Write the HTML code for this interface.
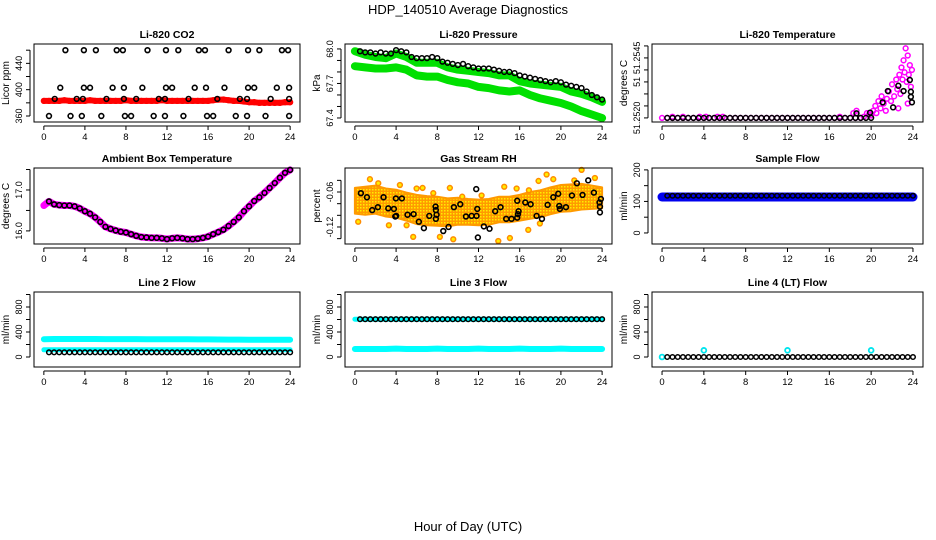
<!DOCTYPE html>
<html><head><meta charset="utf-8">
<style>
html,body{margin:0;padding:0;background:#fff;}
svg{display:block;font-family:"Liberation Sans",Arial,sans-serif;}
</style></head>
<body>
<svg id="chart" width="936" height="540" viewBox="0 0 936 540" xmlns="http://www.w3.org/2000/svg">
<defs>
<pattern id="rhpat" width="3" height="3" patternUnits="userSpaceOnUse">
<rect width="3" height="3" fill="#ff9a00"/><rect x="0" y="0" width="1.5" height="1.5" fill="#ffee00"/>
</pattern>
</defs>
<text x="468" y="14" text-anchor="middle" font-size="13">HDP_140510  Average Diagnostics</text>
<text x="468" y="531" text-anchor="middle" font-size="13">Hour of Day (UTC)</text>
</svg>
<script>
// ---------- data ----------
const xTicks = [0,4,8,12,16,20,24];
// CO2
const co2Red = [383,383,383,383,384,383,383,383,383,384,383,383,383,383,383,383,384,383,383,383,383,383,383,384,383,383,383,383,383,383,383,383,383,384,385,385,384,383,383,382,381,381,380,380,380,380,380,381,381];
const co2BlackHours = [2.1,3.9,5.07,7.1,7.7,10.1,11.9,13.1,15.1,15.7,18.0,19.9,21.0,23.2,23.8, 1.6,3.9,4.5,6.7,7.8,9.6,11.9,12.5,14.7,15.8,17.6,19.9,20.5,22.7,23.9, 1.06,3.2,3.8,6.1,7.8,9.0,11.2,11.8,14.1,16.9,19.1,19.8,22.1,23.9, 0.5,2.6,3.7,5.6,7.9,8.5,10.7,11.8,13.6,15.9,16.5,18.7,19.8,21.6,23.9];
const co2BlackVals = [460,460,460,460,460,460,460,460,460,460,460,460,460,460,460, 403,403,403,403,403,403,403,403,403,403,403,403,403,403,403, 386,386,386,386,386,386,386,386,386,386,386,386,386,386, 360,360,360,360,360,360,360,360,360,360,360,360,360,360,360];
// Pressure
const presBlack = [67.99,67.98,67.97,67.97,67.96,67.97,67.96,67.96,67.99,67.98,67.97,67.93,67.92,67.92,67.92,67.93,67.92,67.89,67.88,67.87,67.86,67.87,67.85,67.84,67.83,67.83,67.83,67.82,67.81,67.80,67.80,67.79,67.77,67.76,67.75,67.74,67.73,67.72,67.71,67.72,67.71,67.69,67.68,67.67,67.66,67.63,67.60,67.58,67.56];
const presGreenUpper = [67.98,67.95,67.93,67.92,67.96,67.93,67.88,67.88,67.88,67.84,67.82,67.81,67.80,67.79,67.77,67.77,67.72,67.70,67.69,67.68,67.67,67.63,67.61,67.58,67.54];
const presGreenLower = [67.85,67.84,67.83,67.83,67.84,67.82,67.77,67.76,67.76,67.73,67.71,67.70,67.67,67.66,67.64,67.63,67.64,67.60,67.57,67.55,67.53,67.50,67.46,67.43,67.40];
// Li-820 temperature
const tempBase = 51.2520;
const tempMagHours = [19.3,19.6,19.8,20.0,20.2,20.4,20.5,20.7,20.9,21.0,21.2,21.4,21.5,21.7,21.9,22.0,22.2,22.4,22.5,22.7,22.8,22.9,23.0,23.1,23.2,23.3,23.4,23.5,23.6,23.7,23.8,23.9,23.5,22.6,18.3,18.6,17.0,3.6,4.2,1.0,2.0,5.3,5.8];
const tempMagVals = [51.25205,51.2522,51.25215,51.2521,51.2523,51.2525,51.2522,51.2527,51.2524,51.2529,51.2526,51.2523,51.2528,51.2531,51.2527,51.2534,51.2529,51.2536,51.2532,51.2538,51.2530,51.2541,51.2536,51.2544,51.2539,51.2549,51.2535,51.2546,51.2538,51.2542,51.2533,51.2540,51.2526,51.2524,51.2522,51.2523,51.25205,51.25205,51.25205,51.25205,51.25205,51.25205,51.25205];
const tempBlackHours = [18.6,19.9,21.1,21.6,22.1,22.6,23.1,23.7,23.8,23.8,23.9];
const tempBlackVals = [51.25219,51.25222,51.25265,51.25312,51.25244,51.25334,51.25312,51.25358,51.25309,51.25288,51.25265];
// Ambient box temperature (half-hourly)
const ambient = [16.62,16.72,16.65,16.63,16.62,16.62,16.6,16.55,16.48,16.42,16.33,16.22,16.1,16.05,16.01,15.98,15.96,15.92,15.88,15.85,15.84,15.83,15.83,15.82,15.8,15.82,15.83,15.82,15.8,15.8,15.81,15.83,15.86,15.92,15.97,16.03,16.12,16.22,16.33,16.48,16.6,16.73,16.82,16.93,17.05,17.17,17.3,17.42,17.49];
// Gas stream RH
const rhMean = [-0.075,-0.075,-0.073,-0.078,-0.08,-0.085,-0.09,-0.092,-0.093,-0.095,-0.093,-0.094,-0.095,-0.094,-0.09,-0.09,-0.087,-0.083,-0.08,-0.075,-0.071,-0.07,-0.068,-0.069,-0.07];
const rhHalfWidth = [0.022,0.024,0.024,0.024,0.024,0.024,0.025,0.025,0.025,0.024,0.023,0.022,0.022,0.022,0.022,0.022,0.022,0.023,0.023,0.023,0.023,0.023,0.022,0.02,0.018];
const rhOrangeHours = [1.46,2.27,4.37,5.99,6.57,7.61,9.22,10.42,12.30,14.50,15.70,16.89,17.83,18.61,19.26,21.30,22.01,23.30,3.30,5.02,5.66,8.25,9.55,13.92,15.05,16.83,17.96,0.32];
const rhOrangeVals = [-0.038,-0.045,-0.048,-0.054,-0.053,-0.062,-0.053,-0.068,-0.066,-0.051,-0.054,-0.057,-0.041,-0.030,-0.038,-0.040,-0.022,-0.036,-0.117,-0.117,-0.137,-0.137,-0.141,-0.144,-0.139,-0.125,-0.114,-0.111];
const rhBlackHours = [0.58,1.17,1.68,2.23,2.78,3.24,3.79,3.92,4.01,3.98,4.56,5.11,5.70,6.21,6.70,7.22,7.83,7.86,7.86,7.93,8.58,9.09,9.61,10.23,10.78,11.33,11.81,11.88,11.78,11.94,12.52,13.07,13.62,14.14,14.69,15.21,15.76,15.83,15.89,15.76,16.54,17.06,17.64,18.16,18.71,19.26,19.74,19.84,19.90,20.49,21.07,21.55,22.10,22.65,23.20,23.75,23.88,23.79,23.79];
const rhBlackVals = [-0.062,-0.069,-0.091,-0.086,-0.069,-0.088,-0.089,-0.102,-0.101,-0.071,-0.071,-0.099,-0.098,-0.111,-0.122,-0.101,-0.085,-0.091,-0.106,-0.099,-0.127,-0.120,-0.086,-0.081,-0.102,-0.101,-0.101,-0.089,-0.055,-0.138,-0.119,-0.123,-0.093,-0.086,-0.106,-0.106,-0.104,-0.098,-0.093,-0.075,-0.078,-0.081,-0.101,-0.106,-0.082,-0.069,-0.063,-0.084,-0.089,-0.086,-0.066,-0.045,-0.065,-0.040,-0.061,-0.078,-0.072,-0.085,-0.095];
// Flows (hourly)
const sampleBlue = [114,114,114,114,114,114,114,114,114,114,114,114,114,114,114,114,114,114,114,114,114,114,114,114,114];
const sampleBlack = [118,118,118,118,118,118,118,118,118,118,118,118,118,118,118,118,118,118,118,118,118,118,118,118,118];
const line2CyanUpper = [285,288,288,288,288,288,287,287,286,286,285,285,284,284,283,282,281,280,279,278,277,276,275,275,275];
const line2CyanLower = [115,115,115,115,115,115,115,115,115,115,115,115,115,115,115,115,115,115,115,115,115,115,115,115,115];
const line2Black = [75,75,75,75,75,75,75,75,75,75,75,75,75,75,75,75,75,75,75,75,75,75,75,75,75];
const line3Black = [605,605,605,605,605,605,605,605,605,605,605,605,605,605,605,605,605,605,605,605,605,605,605,605,605];
const line3CyanLower = [128,128,128,128,135,128,128,128,135,128,128,128,135,128,128,128,135,128,128,128,135,128,128,128,128];
const line4Black = [0,0,0,0,0,0,0,0,0,0,0,0,0,0,0,0,0,0,0,0,0,0,0,0,0];
const line4CyanHours = [0,4,12,20];
const line4CyanVals = [0,107,107,107];

// ---------- drawing ----------
const NS = "http://www.w3.org/2000/svg";
const svg = document.getElementById('chart');
function mk(tag, attrs, parent){ const e=document.createElementNS(NS,tag); for(const k in attrs) e.setAttribute(k,attrs[k]); (parent||svg).appendChild(e); return e; }

const cols = [[34,300],[345,612],[652,923]];
const rows = [[44,122],[168,244],[292,367]];

function panel(name, col, row, title, ylab, ymin, ymax, yticks, ylabels){
  const [x0,x1]=cols[col], [y0,y1]=rows[row];
  const g = mk('g',{});
  
  
  const sx = h => x0 + (h + 0.96)/25.92*(x1-x0);
  const sy = v => y1 - (v - ymin)/(ymax-ymin)*(y1-y0);
  const plot = mk('g',{},g);
  
  
  const box = mk('rect',{x:x0,y:y0,width:x1-x0,height:y1-y0,fill:'none',stroke:'#000','stroke-width':1},g);
  
  
  const t = mk('text',{x:(x0+x1)/2,y:y0-6,'text-anchor':'middle','font-size':10.5,'font-weight':'bold'},g);
  t.textContent=title;
  
  
  const xa = mk('g',{},g);
  
  
  mk('line',{x1:sx(0),x2:sx(24),y1:y1+4,y2:y1+4,stroke:'#000'},xa);
  xTicks.forEach(v=>{
    mk('line',{x1:sx(v),x2:sx(v),y1:y1+4,y2:y1+8,stroke:'#000'},xa);
    const l=mk('text',{x:sx(v),y:y1+18,'text-anchor':'middle','font-size':9.5},xa);
    l.textContent=v;
    
    
  });
  const ya = mk('g',{},g);
  
  
  mk('line',{x1:x0-4,x2:x0-4,y1:sy(yticks[0]),y2:sy(yticks[yticks.length-1]),stroke:'#000'},ya);
  yticks.forEach(v=>mk('line',{x1:x0-8,x2:x0-4,y1:sy(v),y2:sy(v),stroke:'#000'},ya));
  ylabels.forEach(([v,s])=>{
    const l=mk('text',{x:0,y:0,'text-anchor':'middle','font-size':9,transform:`translate(${x0-12},${sy(v)}) rotate(-90)`},ya);
    l.textContent=s;
    
    
  });
  const yt=mk('text',{x:0,y:0,'text-anchor':'middle','font-size':10,transform:`translate(${x0-25},${(y0+y1)/2}) rotate(-90)`},g);
  yt.textContent=ylab;
  
  
  return {g:plot,sx,sy};
}
function circ(p,h,v,color,r,sw,fill){
  const c=mk('circle',{cx:p.sx(h),cy:p.sy(v),r:r||2.4,fill:fill||'none',stroke:color,'stroke-width':sw||1.5},p.g);
  
  
  return c;
}
function band(p,vals,step,color,w,name){
  const pts=vals.map((v,i)=>p.sx(i*step).toFixed(1)+','+p.sy(v).toFixed(1)).join(' ');
  const l=mk('polyline',{points:pts,fill:'none',stroke:color,'stroke-width':w,'stroke-linejoin':'round','stroke-linecap':'round'},p.g);
  
  
}

// Li-820 CO2
let p = panel('co2',0,0,'Li-820 CO2','Licor ppm',350.9,469.4,[360,380,400,420,440,460],[[360,'360'],[400,'400'],[440,'440']]);
band(p,co2Red,0.5,'#ff0000',6,'co2-red-series');
co2Red.forEach((v,i)=>circ(p,i*0.5,v,'#ff0000',2.4,1.5));
co2BlackHours.forEach((h,i)=>circ(p,h,co2BlackVals[i],'#000',2.4,1.6));

// Pressure
p = panel('pressure',1,0,'Li-820 Pressure','kPa',67.365,68.043,[67.4,67.5,67.6,67.7,67.8,67.9,68.0],[[67.4,'67.4'],[67.7,'67.7'],[68.0,'68.0']]);
band(p,presGreenLower,1,'#00e000',8,'pressure-green-lower');
band(p,presGreenUpper,1,'#00e000',8,'pressure-green-upper');
presBlack.forEach((v,i)=>{ if(i>0) circ(p,i*0.5,v,'#000',2.4,1.5); });

// Li-820 Temperature
p = panel('li820-temp',2,0,'Li-820 Temperature','degrees C',51.25183,51.25508,[51.2520,51.2525,51.2530,51.2535,51.2540,51.2545,51.2550],[[51.2520,'51.2520'],[51.2535,'51'],[51.2545,'51.2545']]);
for(let i=0;i<=38;i++) circ(p,i*0.5,tempBase,'#ff00ff',2.4,1.5);
tempMagHours.forEach((h,i)=>circ(p,h,tempMagVals[i],'#ff00ff',2.4,1.5));
for(let i=1;i<=40;i++) circ(p,i*0.5,tempBase,'#000',2.4,1.5);
tempBlackHours.forEach((h,i)=>circ(p,h,tempBlackVals[i],'#000',2.4,1.6));

// Ambient
p = panel('ambient-temp',0,1,'Ambient Box Temperature','degrees C',15.68,17.537,[16.0,16.5,17.0,17.5],[[16.0,'16.0'],[17.0,'17.0']]);
band(p,ambient,0.5,'#ff00ff',7,'ambient-magenta-series');
ambient.forEach((v,i)=>{ if(i>0) circ(p,i*0.5,v,'#000',2.4,1.6); });

// Gas stream RH
p = panel('rh',1,1,'Gas Stream RH','percent',-0.1492,-0.0188,[-0.14,-0.12,-0.10,-0.08,-0.06,-0.04],[[-0.12,'-0.12'],[-0.06,'-0.06']]);
{
  const up = rhMean.map((m,i)=>p.sx(i).toFixed(1)+','+p.sy(m+rhHalfWidth[i]).toFixed(1));
  const dn = rhMean.map((m,i)=>p.sx(i).toFixed(1)+','+p.sy(m-rhHalfWidth[i]).toFixed(1)).reverse();
  const poly=mk('polygon',{points:up.concat(dn).join(' '),fill:'url(#rhpat)',stroke:'#ff9a00','stroke-width':2,'stroke-linejoin':'round'},p.g);
  
  
}
rhOrangeHours.forEach((h,i)=>circ(p,h,rhOrangeVals[i],'#ff8c00',2.4,1.5,'#ffee00'));
rhBlackHours.forEach((h,i)=>circ(p,h,rhBlackVals[i],'#000',2.4,1.6));

// Sample flow
p = panel('sample-flow',2,1,'Sample Flow','ml/min',-35,206,[0,50,100,150,200],[[0,'0'],[100,'100'],[200,'200']]);
band(p,sampleBlue,1,'#0000ee',9,'sample-blue-series');
sampleBlack.forEach((v,i)=>{ if(i>0){ circ(p,i-0.5,v,'#000',2.3,1.5); circ(p,i,v,'#000',2.3,1.5);} });

// Line 2
const flowTicks=[0,200,400,600,800,1000], flowLabels=[[0,'0'],[400,'400'],[800,'800']];
p = panel('line2-flow',0,2,'Line 2 Flow','ml/min',-160,1040,flowTicks,flowLabels);
band(p,line2CyanUpper,1,'#00ffff',6,'line2-cyan-upper');
band(p,line2CyanLower,1,'#00ffff',5,'line2-cyan-lower');
line2Black.forEach((v,i)=>{ if(i>0){ circ(p,i-0.5,v,'#000',2.3,1.5); circ(p,i,v,'#000',2.3,1.5);} });

// Line 3
p = panel('line3-flow',1,2,'Line 3 Flow','ml/min',-160,1040,flowTicks,flowLabels);
band(p,line3CyanLower,1,'#00ffff',6,'line3-cyan-lower');
band(p,line3Black,1,'#00ffff',5,'line3-cyan-upper');
line3Black.forEach((v,i)=>{ if(i>0){ circ(p,i-0.5,v,'#000',2.3,1.5); circ(p,i,v,'#000',2.3,1.5);} });

// Line 4
p = panel('line4-flow',2,2,'Line 4 (LT) Flow','ml/min',-160,1040,flowTicks,flowLabels);
line4CyanHours.forEach((h,i)=>circ(p,h,line4CyanVals[i],'#00e5ee',2.4,1.8));
line4Black.forEach((v,i)=>{ if(i>0){ circ(p,i-0.5,v,'#000',2.3,1.5); circ(p,i,v,'#000',2.3,1.5);} });
</script>
</body></html>
